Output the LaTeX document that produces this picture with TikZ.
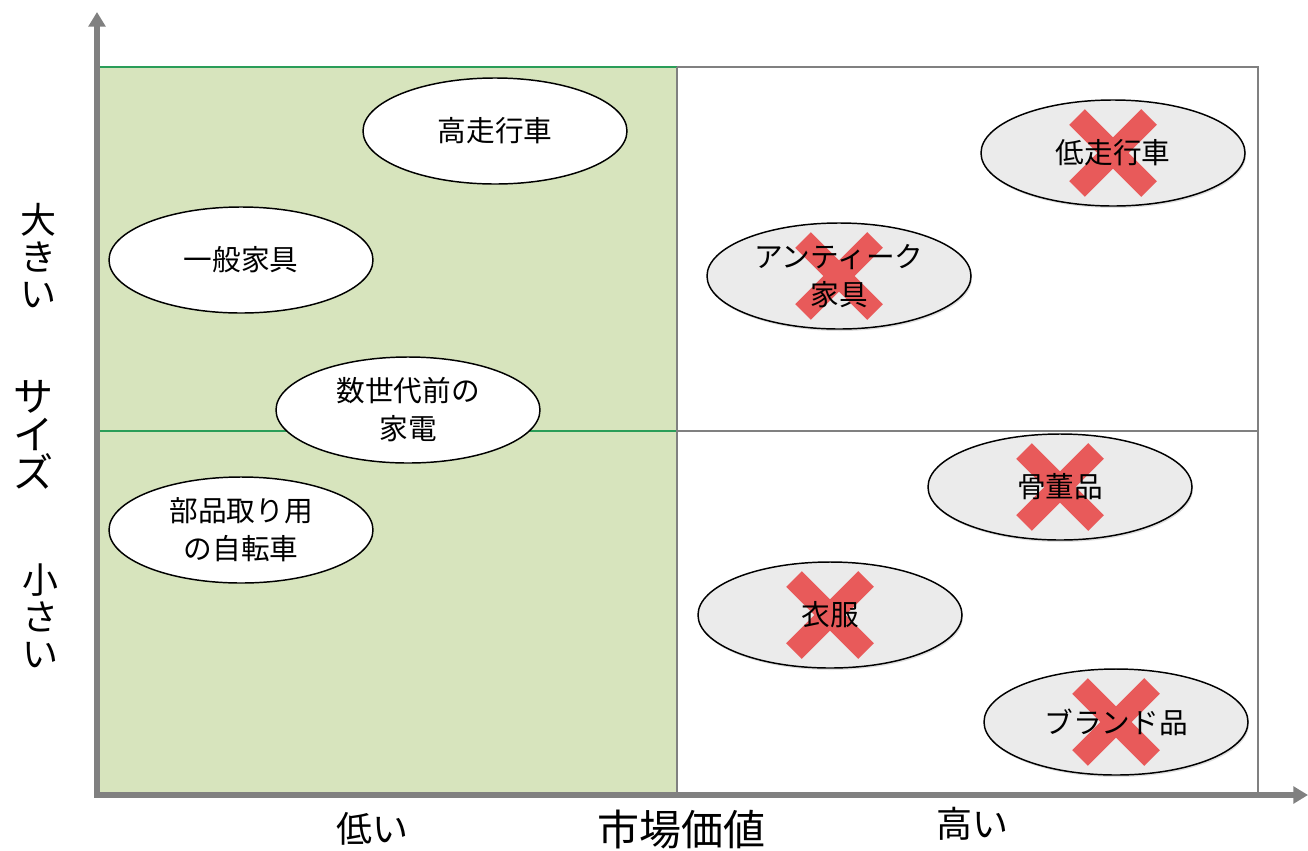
\documentclass[tikz,border=0pt]{standalone}
\usepackage{fontspec}
\setmainfont{Noto Sans CJK JP}
\usetikzlibrary{arrows.meta,shapes.geometric,shadows}
\definecolor{greenfill}{HTML}{D7E4BD}
\definecolor{greenline}{HTML}{2A9D58}
\definecolor{gridgray}{HTML}{808080}
\definecolor{soldgray}{HTML}{EBEBEB}
\definecolor{crossred}{HTML}{E85A5A}
\tikzset{
  gridline/.style={draw=gridgray, line width=1.8pt},
  greenedge/.style={draw=greenline, line width=2pt},
  axisline/.style={draw=gridgray, line width=4.5pt, {Triangle[length=11pt,width=12.5pt]}-{Triangle[length=11pt,width=12.5pt]}},
  item/.style={ellipse, draw=black, line width=1.1pt, fill=white, minimum width=198pt, minimum height=79.5pt, inner sep=0pt},
  solditem/.style={item, fill=soldgray, drop shadow={shadow xshift=0.8pt, shadow yshift=-1.5pt, opacity=0.25}},
  itemtext/.style={align=center, inner sep=0pt, font=\fontsize{21.5}{28.5}\selectfont},
  cross/.style={draw=crossred, line width=16.5pt},
  vlabel/.style={align=center, inner sep=0pt, font=\fontsize{27}{27.75}\selectfont},
  vlabelbig/.style={align=center, inner sep=0pt, font=\fontsize{30}{28.5}\selectfont},
  hlabel/.style={inner sep=0pt, font=\fontsize{27}{30}\selectfont},
  hlabelbig/.style={inner sep=0pt, font=\fontsize{31.5}{34}\selectfont}
}
\begin{document}
\begin{tikzpicture}[x=0.75pt,y=-0.75pt]
\useasboundingbox (0,0) rectangle (1308,850);
% quadrants
\fill[greenfill] (97,67) rectangle (677,795);
\draw[greenedge] (97,67) -- (677,67);
\draw[greenedge] (97,431) -- (677,431);
\draw[gridline] (677,67) -- (1258,67) -- (1258,795);
\draw[gridline] (677,431) -- (1258,431);
\draw[gridline] (677,67) -- (677,795);
% axes
\coordinate (Ytip) at (97,12);
\coordinate (O) at (97,795);
\coordinate (Xtip) at (1308,795);
\draw[axisline] (Ytip) -- (O) -- (Xtip);
% left (white) items
\node[item] (eHigh) at (495,131) {};
\node[itemtext] (tHigh) at (eHigh.center) {高走行車};
\node[item] (eFurn) at (241,260) {};
\node[itemtext] (tFurn) at (eFurn.center) {一般家具};
\node[item] (eElec) at (408,410) {};
\node[itemtext] (tElec) at (eElec.center) {数世代前の\\家電};
\node[item] (eBike) at (241,530) {};
\node[itemtext] (tBike) at (eBike.center) {部品取り用\\の自転車};
% right (sold) items
\node[solditem] (eLow) at (1113,153) {};
\node[solditem] (eAnt) at (839,276) {};
\node[solditem] (eCurio) at (1060,487) {};
\node[solditem] (eCloth) at (830,615) {};
\node[solditem] (eBrand) at (1116,722) {};
% crosses
\foreach \e in {eLow,eAnt,eCurio,eCloth,eBrand}{
  \draw[cross] ([shift={(-36,-36)}]\e.center) -- ([shift={(36,36)}]\e.center);
  \draw[cross] ([shift={(-36,36)}]\e.center) -- ([shift={(36,-36)}]\e.center);
}
\node[itemtext] (tLow) at (eLow.center) {低走行車};
\node[itemtext] (tAnt) at (eAnt.center) {アンティーク\\家具};
\node[itemtext] (tCurio) at (eCurio.center) {骨董品};
\node[itemtext] (tCloth) at (eCloth.center) {衣服};
\node[itemtext] (tBrand) at (eBrand.center) {ブランド品};
% axis labels
\node[vlabel] (big) at (39,256) {大\\き\\い};
\node[vlabelbig] (size) at (33,435) {サ\\イ\\ズ};
\node[vlabel] (small) at (40,616) {小\\さ\\い};
\node[hlabel] (low) at (372,829) {低い};
\node[hlabelbig] (value) at (681,830) {市場価値};
\node[hlabel] (high) at (972,824) {高い};
\end{tikzpicture}
\end{document}
